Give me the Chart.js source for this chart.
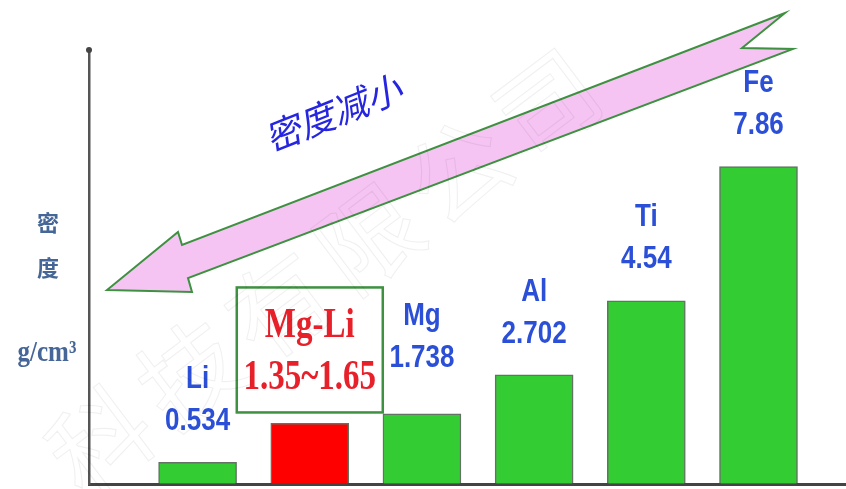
<!DOCTYPE html>
<html>
<head>
<meta charset="utf-8">
<script src="https://cdn.jsdelivr.net/npm/chart.js@4.4.0/dist/chart.umd.min.js"></script>
<style>
  html, body { margin: 0; padding: 0; background: #fff; }
  #wrap { width: 846px; height: 489px; position: relative; }
</style>
</head>
<body>
<div id="wrap"><canvas id="densityChart"></canvas></div>
<script>
// 金属密度 (g/cm3)
var metals = ['Li', 'Mg-Li', 'Mg', 'Al', 'Ti', 'Fe'];
var alloyRange = [1.35, 1.65];
var densities = [0.534, (alloyRange[0] + alloyRange[1]) / 2, 1.738, 2.702, 4.54, 7.86];
var barColors = ['#33cc33', '#ff0000', '#33cc33', '#33cc33', '#33cc33', '#33cc33'];

var yTitle = ['密', '度', 'g/cm³'];
var arrowText = '密度减小';
var watermark = '科技有限公司';

function valueText(i) {
  return metals[i] === 'Mg-Li' ? alloyRange.join('~') : String(densities[i]);
}

// 纵向拉长的文字
function tallText(ctx, text, x, y, sy) {
  ctx.save();
  ctx.translate(x, y);
  ctx.scale(1, sy);
  ctx.fillText(text, 0, 0);
  ctx.restore();
}

var decorations = {
  id: 'decorations',
  afterDatasetsDraw: function (chart) {
    var ctx = chart.ctx;
    var area = chart.chartArea;
    var meta = chart.getDatasetMeta(0);

    // 纵轴顶端的小圆点
    ctx.save();
    ctx.fillStyle = '#444';
    ctx.beginPath();
    ctx.arc(area.left, area.top, 3, 0, Math.PI * 2);
    ctx.fill();

    // 纵轴标题
    ctx.fillStyle = '#456696';
    ctx.textAlign = 'center';
    ctx.textBaseline = 'middle';
    ctx.font = 'bold 22px "Noto Sans CJK SC"';
    ctx.fillText(yTitle[0], 48, 223);
    ctx.fillText(yTitle[1], 48, 268);
    ctx.font = 'bold 25px "Liberation Serif"';
    tallText(ctx, yTitle[2], 47, 353, 1.2);

    // 每根柱子上方的名称和密度
    meta.data.forEach(function (bar, i) {
      if (metals[i] === 'Mg-Li') {
        ctx.strokeStyle = '#3d9140';
        ctx.lineWidth = 2.5;
        ctx.strokeRect(bar.x - 73, bar.y - 136, 146, 125);
        ctx.fillStyle = '#e8202a';
        ctx.font = 'bold 33px "Liberation Serif"';
        tallText(ctx, metals[i], bar.x, bar.y - 98, 1.3);
        tallText(ctx, valueText(i), bar.x, bar.y - 46, 1.3);
      } else {
        var lift = metals[i] === 'Mg' ? 14 : 0;
        ctx.fillStyle = '#2b4fd6';
        ctx.font = 'bold 26px "Liberation Sans"';
        tallText(ctx, metals[i], bar.x, bar.y - 83 - lift, 1.2);
        tallText(ctx, valueText(i), bar.x, bar.y - 41 - lift, 1.2);
      }
    });

    // 粉色大箭头
    var pts = [[107, 290], [192, 292], [188, 278], [793, 49], [742, 48],
               [785, 13], [182, 245], [178, 232]];
    ctx.beginPath();
    pts.forEach(function (p, k) { k ? ctx.lineTo(p[0], p[1]) : ctx.moveTo(p[0], p[1]); });
    ctx.closePath();
    ctx.fillStyle = '#f6c4f3';
    ctx.fill();
    ctx.strokeStyle = '#3d9140';
    ctx.lineWidth = 2;
    ctx.lineJoin = 'miter';
    ctx.stroke();

    ctx.save();
    ctx.translate(333, 113);
    ctx.rotate(-21.8 * Math.PI / 180);
    ctx.fillStyle = '#2626e0';
    ctx.font = 'italic 36px "Noto Sans CJK SC"';
    ctx.fillText(arrowText, 0, 0);
    ctx.restore();

    // 水印
    ctx.strokeStyle = 'rgba(0, 0, 0, 0.06)';
    ctx.lineWidth = 1.2;
    ctx.font = '100px "Noto Sans CJK SC"';
    var ang = -37 * Math.PI / 180;
    for (var k = 0; k < watermark.length; k++) {
      ctx.save();
      ctx.translate(100 + k * 112 * Math.cos(ang), 440 + k * 112 * Math.sin(ang));
      ctx.rotate(ang);
      ctx.strokeText(watermark[k], 0, 0);
      ctx.restore();
    }
    ctx.restore();
  }
};

var config = {
  type: 'bar',
  data: {
    datasets: [{
      data: densities.map(function (v, i) { return { x: i, y: v }; }),
      backgroundColor: barColors,
      borderColor: 'rgba(60, 80, 60, 0.8)',
      borderWidth: 1.5,
      barThickness: 78
    }]
  },
  options: {
    responsive: true,
    maintainAspectRatio: false,
    animation: false,
    layout: { padding: { left: 89, top: 50, right: 0, bottom: 5 } },
    plugins: { legend: { display: false }, tooltip: { enabled: false } },
    scales: {
      x: {
        type: 'linear',
        offset: false,
        min: -0.968,
        max: 5.78,
        ticks: { display: false },
        grid: { drawOnChartArea: false, drawTicks: false },
        border: { color: '#444', width: 3 }
      },
      y: {
        min: 0,
        max: 10.75,
        ticks: { display: false },
        grid: { drawOnChartArea: false, drawTicks: false },
        border: { color: '#555', width: 2.5 }
      }
    }
  },
  plugins: [decorations]
};

var densityChart = new Chart(document.getElementById('densityChart'), config);
</script>
</body>
</html>
